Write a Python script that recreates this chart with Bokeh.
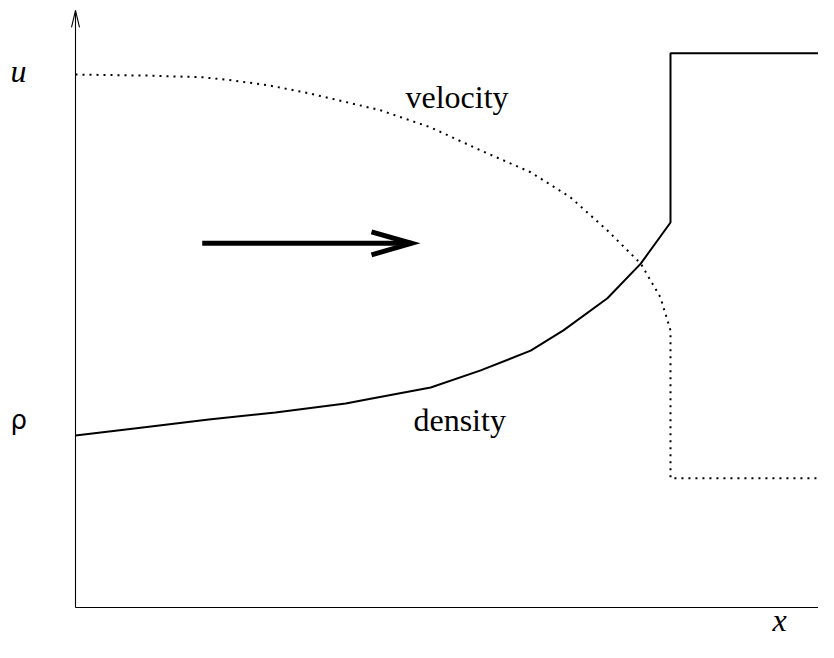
import math
from bokeh.plotting import figure
from bokeh.models import Range1d, Label
from bokeh.embed import file_html
from bokeh.resources import INLINE

# ---- data (x: position, shock at x = 1; y: normalised level, u = 1) ----
vel_x = [0.0, 0.123, 0.213, 0.264, 0.324, 0.392, 0.449, 0.513, 0.597, 0.681,
         0.765, 0.832, 0.894, 0.950, 0.983, 1.0, 1.0, 1.276]
vel_y = [0.998, 0.996, 0.993, 0.987, 0.978, 0.963, 0.948, 0.931, 0.899, 0.856,
         0.815, 0.768, 0.706, 0.644, 0.581, 0.519, 0.242, 0.242]

den_x = [0.0, 0.113, 0.224, 0.336, 0.454, 0.496, 0.597, 0.681, 0.765, 0.820,
         0.894, 0.950, 1.0, 1.0, 1.276]
den_y = [0.322, 0.337, 0.352, 0.365, 0.382, 0.391, 0.412, 0.444, 0.481, 0.519,
         0.579, 0.644, 0.721, 1.038, 1.038]

flow_arrow_x = [0.213, 0.5647]
flow_arrow_y = 0.682

axis_y_level = 0.0
axis_x_end = 1.274
axis_y_end = 1.118

label_u = "u"
label_rho = "ρ"
label_x = "x"
label_vel = "velocity"
label_den = "density"

# pixel scale of data units (for arrow-head geometry)
PX_X = 595.0
PX_Y = 534.0

p = figure(width=818, height=642, output_backend="svg", toolbar_location=None,
           x_range=Range1d(-0.12605, 1.24874), y_range=Range1d(-0.065543, 1.136704),
           x_axis_location=None, y_axis_location=None, min_border=0)
p.grid.visible = False
p.outline_line_color = None
p.background_fill_color = "white"
p.border_fill_color = "white"


def head(xt, yt, dxp, dyp, length, half):
    n = math.hypot(dxp, dyp)
    ux, uy = dxp / n, dyp / n
    px_, py_ = -uy, ux
    a = (xt - (ux * length + px_ * half) / PX_X, yt - (uy * length + py_ * half) / PX_Y)
    b = (xt - (ux * length - px_ * half) / PX_X, yt - (uy * length - py_ * half) / PX_Y)
    return a, b


# axes
p.line([0, 0], [axis_y_level, axis_y_end], line_color="black", line_width=1.1)
p.line([0, axis_x_end], [axis_y_level, axis_y_level], line_color="black", line_width=1.1)
a, b = head(0, axis_y_end, 0, 1, 17, 4)
p.line([a[0], 0, b[0]], [a[1], axis_y_end, b[1]], line_color="black", line_width=1.1)
a, b = head(axis_x_end, axis_y_level, 1, 0, 9, 4)
p.line([a[0], axis_x_end, b[0]], [a[1], axis_y_level, b[1]], line_color="black", line_width=1.1)

# curves
p.line(vel_x, vel_y, line_color="black", line_width=2, line_dash="2 5")
p.line(den_x, den_y, line_color="black", line_width=2)

# flow arrow
p.line(flow_arrow_x, [flow_arrow_y, flow_arrow_y], line_color="black", line_width=5)
a, b = head(flow_arrow_x[1], flow_arrow_y, 1, 0, 40, 11.5)
p.line([a[0], flow_arrow_x[1], b[0]], [a[1], flow_arrow_y, b[1]], line_color="black",
       line_width=5, line_join="miter")

# labels
serif = "Liberation Serif"
p.add_layout(Label(x=-0.1092, y=1.0056, text=label_u, text_font=serif, text_font_style="italic",
                   text_font_size="32px", text_baseline="alphabetic", text_align="left",
                   text_color="black"))
p.add_layout(Label(x=-0.1092, y=0.3502, text=label_rho, text_font="DejaVu Sans",
                   text_font_size="26px", text_baseline="alphabetic", text_align="left",
                   text_color="black"))
p.add_layout(Label(x=1.1714, y=-0.0243, text=label_x, text_font=serif, text_font_style="italic",
                   text_font_size="32px", text_baseline="alphabetic", text_align="left",
                   text_color="black"))
p.add_layout(Label(x=0.5546, y=0.9569, text=label_vel, text_font=serif,
                   text_font_size="32px", text_baseline="alphabetic", text_align="left",
                   text_color="black"))
p.add_layout(Label(x=0.568, y=0.3502, text=label_den, text_font=serif,
                   text_font_size="32px", text_baseline="alphabetic", text_align="left",
                   text_color="black"))

open("out.html", "w").write(file_html(p, INLINE))
